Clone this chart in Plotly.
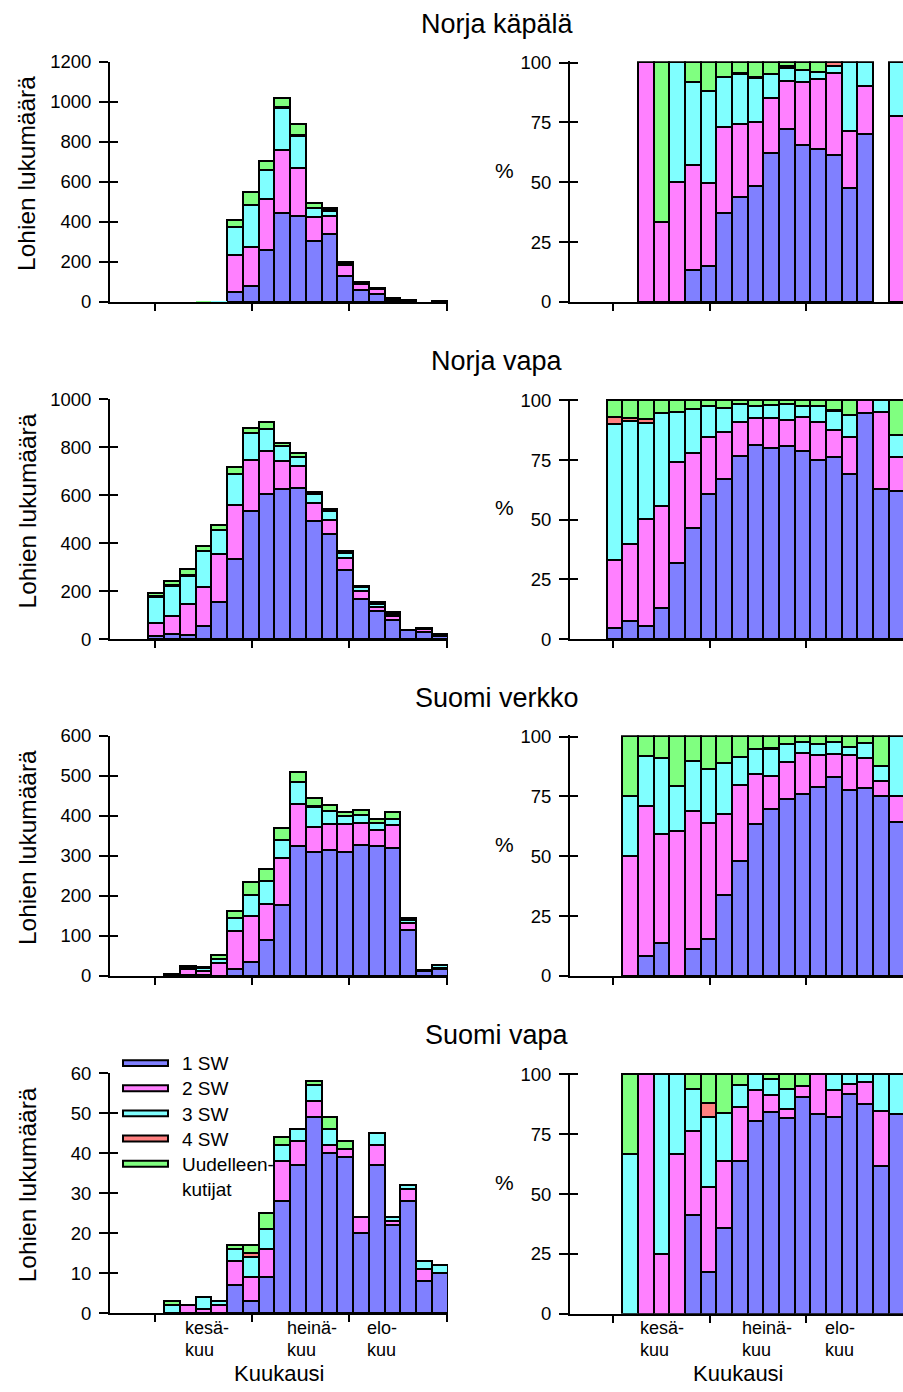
import plotly.graph_objects as go

W, H = 903, 1392
FONT = "Liberation Sans, Arial, sans-serif"

# 5-day catch periods from early June to the end of August
periods = list(range(19))
# positions of the month boundaries on the period axis
month_starts = [-0.08, 6.07, 12.22, 18.45]
month_labels = ["kesä-\nkuu", "heinä-\nkuu", "elo-\nkuu"]

age_groups = ["1 SW", "2 SW", "3 SW", "4 SW", "Uudelleen-\nkutijat"]
age_colors = ["#8080FF", "#FF80FF", "#80FFFF", "#FF8080", "#80FF80"]

# Norja käpälä: catch per period by sea age
nk_1sw = [0, 0, 0, 0, 0, 54, 83, 261, 447, 430, 308, 339, 133, 64, 43, 10, 7, 0, 0]
nk_2sw = [0, 0, 1, 1, 1, 180, 192, 255, 312, 239, 116, 93, 53, 29, 24, 5, 2, 0, 7]
nk_3sw = [0, 0, 0, 0, 1, 142, 210, 145, 210, 164, 49, 26, 11, 3, 2, 6, 1, 0, 2]
nk_4sw = [0, 0, 0, 0, 0, 0, 0, 0, 6, 5, 0, 4, 0, 0, 1, 0, 0, 0, 0]
nk_uud = [0, 0, 0, 2, 0, 34, 67, 44, 45, 53, 24, 7, 6, 4, 0, 0, 0, 0, 0]

# Norja vapa
nv_1sw = [9, 18, 16, 51, 151, 332, 534, 604, 625, 629, 492, 436, 287, 164, 117, 77, 36, 27, 13]
nv_2sw = [55, 78, 129, 164, 202, 226, 211, 181, 116, 90, 76, 59, 51, 35, 17, 17, 2, 14, 3]
nv_3sw = [109, 123, 117, 151, 100, 130, 113, 90, 63, 38, 34, 37, 18, 15, 12, 10, 0, 2, 2]
nv_4sw = [6, 3, 5, 0, 0, 0, 0, 0, 0, 0, 0, 0, 0, 0, 1, 0, 0, 0, 0]
nv_uud = [13, 18, 22, 20, 23, 27, 21, 28, 11, 18, 12, 7, 8, 5, 6, 7, 0, 0, 3]

# Suomi verkko
sv_1sw = [0, 0, 2, 3, 0, 18, 36, 91, 178, 324, 311, 315, 311, 328, 325, 319, 114, 12, 18]
sv_2sw = [0, 2, 15, 10, 32, 94, 113, 90, 118, 106, 62, 66, 70, 55, 39, 59, 18, 1, 3]
sv_3sw = [0, 1, 5, 7, 10, 34, 53, 57, 43, 54, 50, 32, 20, 20, 19, 14, 9, 1, 7]
sv_4sw = [0, 0, 0, 0, 0, 0, 0, 0, 0, 0, 2, 0, 0, 0, 0, 0, 0, 0, 0]
sv_uud = [0, 1, 2, 2, 11, 17, 32, 30, 32, 26, 21, 14, 9, 13, 9, 18, 4, 2, 0]

# Suomi vapa
sp_1sw = [0, 0, 0, 0, 0, 7, 3, 9, 28, 37, 49, 40, 39, 20, 37, 22, 28, 8, 10]
sp_2sw = [0, 0, 2, 1, 2, 6, 6, 7, 10, 6, 4, 2, 2, 4, 5, 1, 3, 3, 0]
sp_3sw = [0, 2, 0, 3, 1, 3, 5, 5, 4, 3, 4, 4, 0, 0, 3, 1, 1, 2, 2]
sp_4sw = [0, 0, 0, 0, 0, 0, 1, 0, 0, 0, 0, 0, 0, 0, 0, 0, 0, 0, 0]
sp_uud = [0, 1, 0, 0, 0, 1, 2, 4, 2, 0, 1, 3, 2, 0, 0, 0, 0, 0, 0]

panels = [
    ("Norja käpälä", [nk_1sw, nk_2sw, nk_3sw, nk_4sw, nk_uud], 1200, 200),
    ("Norja vapa", [nv_1sw, nv_2sw, nv_3sw, nv_4sw, nv_uud], 1000, 200),
    ("Suomi verkko", [sv_1sw, sv_2sw, sv_3sw, sv_4sw, sv_uud], 600, 100),
    ("Suomi vapa", [sp_1sw, sp_2sw, sp_3sw, sp_4sw, sp_uud], 60, 10),
]
pct_ticks = [0, 25, 50, 75, 100]

# figure geometry (pixels from the top-left corner)
LEFT_X = (110, 448)
RIGHT_X = (570, 903)
LEFT_RANGE = [-2.93, 18.53]
RIGHT_RANGE = [-2.84, 18.41]
LEFT_ROWS = [(51.4, 295.4), (394.4, 637.7), (736.0, 979.7), (1078.4, 1322.2)]
RIGHT_ROWS = [(52.4, 295.4), (395.4, 637.7), (736.7, 979.7), (1079.7, 1322.7)]
TITLE_Y = [12.9, 355.5, 697.2, 1039.8]
MONTH_LINE_Y = [1337.4, 1359.7]
MONTH_X = ([183, 285, 365], [638, 740, 823])
XTITLE = ((279, 1383.5), (738, 1383.5))
LEG_Y0, LEG_STEP, LEG_HALF = 1068.2, 25.55, 3.0
PCT_PAD = 0.006
OUTLINE = 2
MIN_OUTLINED = 0.004  # stacks thinner than this share of the axis get no outline


def fx(px):
    return px / W


def fy(px):
    return 1 - px / H


def ref(letter, n):
    return letter if n == 1 else f"{letter}{n}"


def key(letter, n):
    return f"{letter}axis" if n == 1 else f"{letter}axis{n}"


def text(s, x, y, size, **kw):
    d = dict(text=s, x=fx(x), y=fy(y), xref="paper", yref="paper", showarrow=False,
             xanchor="center", yanchor="middle",
             font=dict(family=FONT, size=size, color="black"))
    d.update(kw)
    return d


fig = go.Figure()
layout = {}
annotations = []
shapes = []

axis_common = dict(showgrid=False, zeroline=False, fixedrange=True,
                   linecolor="black", tickcolor="black", tickwidth=2)

for r, (title, series, ymax, dtick) in enumerate(panels):
    totals = [sum(s[i] for s in series) for i in periods]
    shares = [[(s[i] / totals[i] * 100 if totals[i] else 0) for i in periods] for s in series]

    for side in (0, 1):
        n = 2 * r + side + 1
        ov = n + 8
        xr, yr = ref("x", n), ref("y", n)
        if side == 0:
            values, xdom, xrng = series, LEFT_X, LEFT_RANGE
            top, bottom = LEFT_ROWS[r]
            yrange = [0, ymax]
            tickvals = list(range(0, ymax + 1, dtick))
            widths = [OUTLINE if t / ymax >= MIN_OUTLINED else 0 for t in totals]
        else:
            values, xdom, xrng = shares, RIGHT_X, RIGHT_RANGE
            t100, bottom = RIGHT_ROWS[r]
            top = bottom - (bottom - t100) * (1 + PCT_PAD)
            yrange = [0, 100 * (1 + PCT_PAD)]
            tickvals = pct_ticks
            widths = [OUTLINE] * len(periods)

        for name, color, vals in zip(age_groups, age_colors, values):
            fig.add_bar(
                x=periods, y=[v if v else None for v in vals],
                xaxis=xr, yaxis=yr, width=1, name=name,
                marker=dict(color=color, line=dict(color="black", width=widths)),
                showlegend=False, hoverinfo="skip",
            )
        # empty trace carrying the inner half of the crossing y ticks
        fig.add_scatter(x=[None], y=[None], xaxis=xr, yaxis=f"y{ov}",
                        showlegend=False, hoverinfo="skip")

        layout[key("x", n)] = dict(
            axis_common, domain=[fx(xdom[0]), fx(xdom[1])], range=xrng,
            anchor=yr, showline=True, linewidth=2, ticks="outside", ticklen=7,
            tickvals=month_starts, showticklabels=False,
        )
        layout[key("y", n)] = dict(
            axis_common, domain=[fy(bottom), fy(top)], range=yrange,
            anchor=xr, showline=True, linewidth=2, ticks="outside", ticklen=9,
            tickvals=tickvals, ticklabelstandoff=4,
            tickfont=dict(family=FONT, size=18.5, color="black"),
        )
        layout[key("y", ov)] = dict(
            axis_common, overlaying=yr, anchor=xr, side="left", range=yrange,
            showline=False, ticks="inside", ticklen=8, tickvals=tickvals,
            showticklabels=False,
        )

    # panel title and axis titles
    annotations.append(text(title, 497, TITLE_Y[r], 27))
    lt, lb = LEFT_ROWS[r]
    annotations.append(text("Lohien lukumäärä", 27, (lt + lb) / 2 - 8, 24.5, textangle=-90))
    rt, rb = RIGHT_ROWS[r]
    annotations.append(text("%", 505, (rt + rb) / 2 - 12, 21))

# month names under the bottom row and the axis title
for xs, (xt, yt) in zip(MONTH_X, XTITLE):
    for label, px in zip(month_labels, xs):
        for line, ly in zip(label.split("\n"), MONTH_LINE_Y):
            annotations.append(text(line, px, ly, 18, xanchor="left"))
    annotations.append(text("Kuukausi", xt, yt, 22))

# legend in the Suomi vapa count panel
for k, (name, color) in enumerate(zip(age_groups, age_colors)):
    cy = LEG_Y0 + k * LEG_STEP
    shapes.append(dict(type="rect", xref="paper", yref="paper",
                       x0=fx(123), x1=fx(168), y0=fy(cy + LEG_HALF), y1=fy(cy - LEG_HALF),
                       fillcolor=color, line=dict(color="black", width=2)))
    annotations.append(text(name.replace("\n", "<br>"), 180, cy - 12, 19,
                            xanchor="left", yanchor="top", align="left"))

fig.update_layout(
    width=W, height=H, margin=dict(l=0, r=0, t=0, b=0),
    paper_bgcolor="white", plot_bgcolor="white",
    barmode="stack", bargap=0, showlegend=False,
    annotations=annotations, shapes=shapes, **layout,
)

fig.write_html("out.html")
